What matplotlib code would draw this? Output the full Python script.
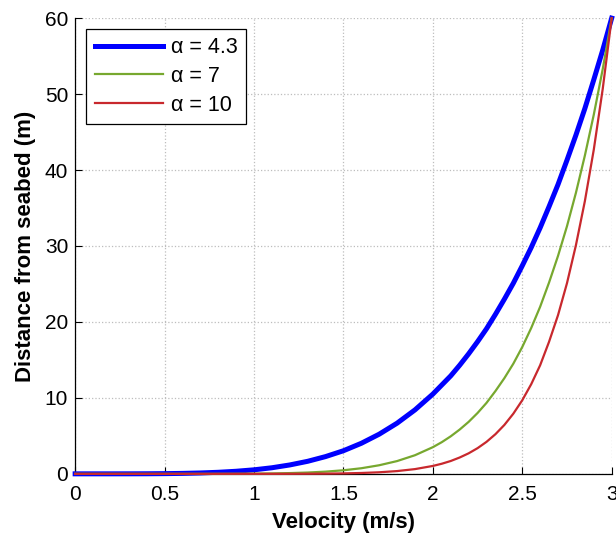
import matplotlib
matplotlib.use("Agg")
import matplotlib.pyplot as plt

plt.rcParams["font.family"] = ["Liberation Sans", "DejaVu Sans"]

# velocity samples (m/s) and height above seabed (m) for each profile exponent
VELOCITY = [0.0, 0.1, 0.2, 0.3, 0.4, 0.5, 0.6, 0.7, 0.8, 0.9, 1.0,
            1.1, 1.2, 1.3, 1.4, 1.5, 1.6, 1.7, 1.8, 1.9, 2.0,
            2.05, 2.1, 2.15, 2.2, 2.25, 2.3, 2.35, 2.4, 2.45, 2.5,
            2.55, 2.6, 2.65, 2.7, 2.75, 2.8, 2.85, 2.9, 2.95, 3.0]
Z_A43 = [0.0, 0.0, 0.0, 0.003, 0.010, 0.027, 0.059, 0.115, 0.204, 0.339, 0.53,
         0.80, 1.17, 1.65, 2.27, 3.04, 4.02, 5.22, 6.67, 8.42, 10.5,
         11.7, 12.9, 14.3, 15.8, 17.4, 19.1, 21.0, 23.0, 25.1, 27.4,
         29.8, 32.4, 35.2, 38.1, 41.3, 44.6, 48.1, 51.9, 55.8, 60.0]
Z_A7 = [0.0, 0.0, 0.0, 0.0, 0.0, 0.0, 0.0, 0.001, 0.006, 0.013, 0.027,
        0.053, 0.098, 0.172, 0.289, 0.469, 0.736, 1.13, 1.68, 2.45, 3.51,
        4.17, 4.94, 5.83, 6.84, 8.01, 9.34, 10.9, 12.6, 14.5, 16.7,
        19.2, 22.0, 25.2, 28.7, 32.6, 37.0, 41.9, 47.3, 53.3, 60.0]
Z_A10 = [0.0, 0.0, 0.0, 0.0, 0.0, 0.0, 0.0, 0.0, 0.0, 0.001, 0.003,
         0.003, 0.006, 0.014, 0.029, 0.059, 0.112, 0.205, 0.363, 0.623, 1.04,
         1.33, 1.69, 2.15, 2.70, 3.38, 4.21, 5.22, 6.44, 7.92, 9.69,
         11.8, 14.3, 17.4, 20.9, 25.1, 30.1, 35.9, 42.7, 50.7, 60.0]
LABELS = ["α = 4.3", "α = 7", "α = 10"]

fig = plt.figure(figsize=(6.16, 5.33), dpi=100)
ax = fig.add_axes([0.122, 0.111, 0.871, 0.855])

ax.plot(VELOCITY, Z_A43, color="#0000ff", lw=3.6, label=LABELS[0], clip_on=False, zorder=3)
ax.plot(VELOCITY, Z_A7, color="#77a82f", lw=1.6, label=LABELS[1], clip_on=False, zorder=4)
ax.plot(VELOCITY, Z_A10, color="#c8282d", lw=1.6, label=LABELS[2], clip_on=False, zorder=5)

ax.set_xlim(0, 3)
ax.set_ylim(0, 60)
ax.set_xticks([0, 0.5, 1, 1.5, 2, 2.5, 3])
ax.set_xticklabels(["0", "0.5", "1", "1.5", "2", "2.5", "3"])
ax.set_yticks(range(0, 61, 10))
ax.tick_params(direction="in", labelsize=15, length=5, width=0.8, pad=5)
ax.tick_params(axis="x", pad=8)
ax.grid(True, ls=":", color="#bdbdbd", lw=0.9)
ax.set_axisbelow(True)
for side in ("top", "right"):
    ax.spines[side].set_visible(False)
for side in ("left", "bottom"):
    ax.spines[side].set_linewidth(0.9)

ax.set_xlabel("Velocity (m/s)", fontsize=16, fontweight="bold", labelpad=6)
ax.set_ylabel("Distance from seabed (m)", fontsize=16, fontweight="bold", labelpad=6)

leg = ax.legend(loc="upper left", fontsize=15.5, handlelength=3.2, fancybox=False,
                edgecolor="black", framealpha=1, borderaxespad=0.5,
                labelspacing=0.35, handletextpad=0.35, borderpad=0.4)
leg.get_frame().set_linewidth(0.9)

fig.savefig("out.png", dpi=100)
